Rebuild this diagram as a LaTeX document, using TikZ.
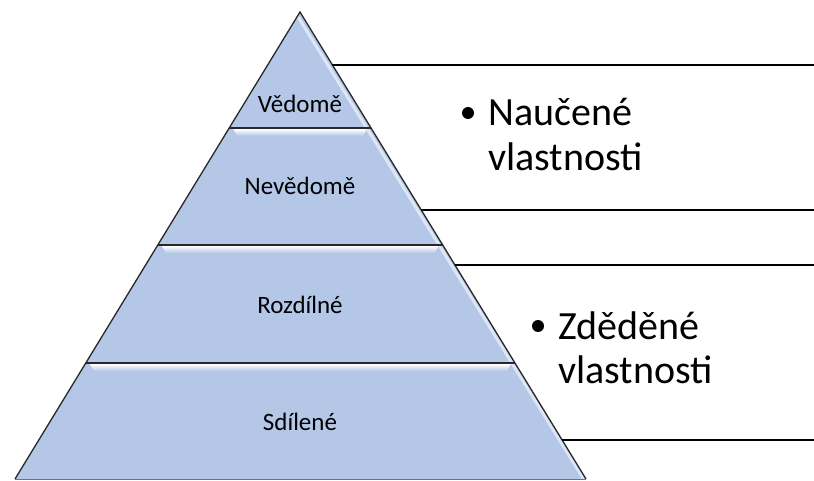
\documentclass[tikz,border=0pt]{standalone}
\usepackage{fontspec}
\setmainfont{Carlito}
\usetikzlibrary{calc}
\definecolor{pyr}{RGB}{180,199,231}
\definecolor{edge}{RGB}{40,40,40}
\begin{document}
\begin{tikzpicture}[x=1pt,y=-1pt,
  lab/.style={font=\fontsize{25}{30}\selectfont, inner sep=0pt, anchor=base},
  big/.style={font=\fontsize{40}{45}\selectfont, inner sep=0pt, anchor=base west},
  bul/.style={circle, fill=black, inner sep=0pt, minimum size=12pt},
  divider/.style={line width=1.6pt, edge},
  rule/.style={line width=1.5pt, black},
  hilite/.style={top color=white, bottom color=pyr}
]
\useasboundingbox (0,0) rectangle (814,481);
\coordinate (apex) at (300,12);
\coordinate (bl) at (15,479);
\coordinate (br) at (586,479);
\coordinate (R) at (814,0);
% pyramid body
\fill[pyr] (apex) -- (bl) -- (br) -- cycle;
% divider end points
\coordinate (d1l) at ($(apex)!0.2484!(bl)$);
\coordinate (d1r) at ($(apex)!0.2484!(br)$);
\coordinate (d2l) at ($(apex)!0.4989!(bl)$);
\coordinate (d2r) at ($(apex)!0.4989!(br)$);
\coordinate (d3l) at ($(apex)!0.7516!(bl)$);
\coordinate (d3r) at ($(apex)!0.7516!(br)$);
% bevel highlights
\begin{scope}
  \clip (apex) -- (bl) -- (br) -- cycle;
  \shade[hilite] ($(d1l)+(4,1)$) -- ($(d1r)+(-4,1)$) -- ($(d1r)+(-8,8)$) -- ($(d1l)+(8,8)$) -- cycle;
  \shade[hilite] ($(d2l)+(4,1)$) -- ($(d2r)+(-4,1)$) -- ($(d2r)+(-8,8)$) -- ($(d2l)+(8,8)$) -- cycle;
  \shade[hilite] ($(d3l)+(4,1)$) -- ($(d3r)+(-4,1)$) -- ($(d3r)+(-8,8)$) -- ($(d3l)+(8,8)$) -- cycle;
  \draw[line width=3pt, white!55!pyr] ($(apex)+(-2.5,4)$) -- ($(br)+(-2.5,0)$);
\end{scope}
% dividers
\draw[divider] (d1l) -- (d1r);
\draw[divider] (d2l) -- (d2r);
\draw[divider] (d3l) -- (d3r);
% outline
\draw[line width=1.3pt, edge, line join=miter] (br) -- (apex) -- (bl);
\draw[line width=1pt, black!55] (bl) -- (br);
% labels
\node[lab] (vedome) at (300,113) {Vědomě};
\node[lab] (nevedome) at (300,195) {Nevědomě};
\node[lab] (rozdilne) at (300,313) {Rozdílné};
\node[lab] (sdilene) at (300,430) {Sdílené};
% right rules
\coordinate (e1) at ($(apex)!0.1135!(br)$);
\coordinate (e2) at ($(apex)!0.4240!(br)$);
\coordinate (e3) at ($(apex)!0.5418!(br)$);
\coordinate (e4) at ($(apex)!0.9165!(br)$);
\draw[rule] (e1) -- (e1 -| R);
\draw[rule] (e2) -- (e2 -| R);
\draw[rule] (e3) -- (e3 -| R);
\draw[rule] (e4) -- (e4 -| R);
% bullet texts
\node[bul] (b1) at (468,113) {};
\node[big] (t1a) at (488,126) {Naučené};
\node[big] (t1b) at (488,171) {vlastnosti};
\node[bul] (b2) at (538,326) {};
\node[big] (t2a) at (558,339) {Zděděné};
\node[big] (t2b) at (558,383) {vlastnosti};
\end{tikzpicture}
\end{document}
